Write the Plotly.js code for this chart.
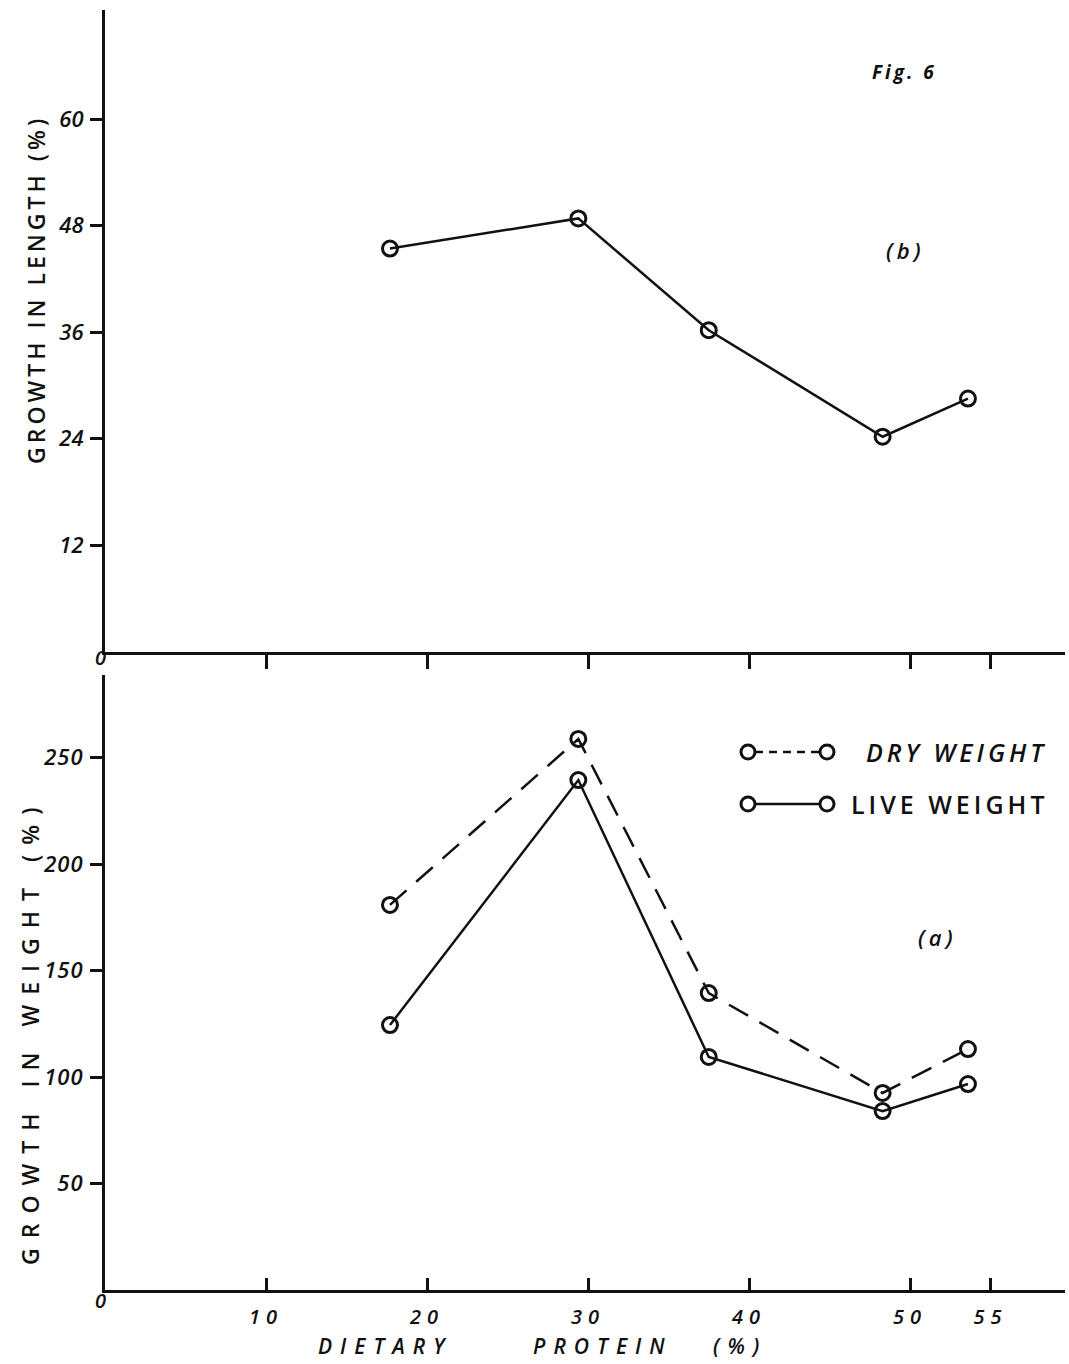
<!DOCTYPE html>
<html>
<head>
<meta charset="utf-8">
<script src="https://cdn.plot.ly/plotly-3.0.1.min.js"></script>
<style>
html,body{margin:0;padding:0;background:#fff;}
#chart{width:1069px;height:1364px;}
</style>
</head>
<body>
<div id="chart"></div>
<script>
// ---- data ----
const proteinLevels = [17.7, 29.4, 37.5, 48.3, 53.6];          // dietary protein (%)
const lengthGrowth  = [45.4, 48.8, 36.2, 24.2, 28.5];          // panel (b), growth in length (%)
const dryWeight     = [180.8, 258.7, 139.4, 92.5, 113.1];      // panel (a), dry weight growth (%)
const liveWeight    = [124.4, 239.4, 109.4, 84.0, 96.7];       // panel (a), live weight growth (%)
const xTicks        = [10, 20, 30, 40, 50, 55];
const xTickText     = ['10', '20', '30', '40', '50', '55'];
const lenTicks      = [12, 24, 36, 48, 60];
const lenTickText   = ['12', '24', '36', '48', '60'];
const wtTicks       = [50, 100, 150, 200, 250];
const wtTickText    = ['50', '100', '150', '200', '250'];

// ---- pixel helpers for paper placement ----
const L = 105, R = 1065, T = 10, B = 1290;
const px = x => (x - L) / (R - L);
const py = y => (B - y) / (B - T);

const FONT = 'Open Sans, Liberation Sans, sans-serif';
const ink = '#111';

const markerStyle = {symbol: 'circle-open', size: 15, color: ink, line: {width: 3, color: ink}};

const traces = [
  {x: proteinLevels, y: lengthGrowth, xaxis: 'x', yaxis: 'y', mode: 'lines+markers',
   line: {color: ink, width: 2.5}, marker: markerStyle, name: 'LENGTH'},
  {x: proteinLevels, y: dryWeight, xaxis: 'x2', yaxis: 'y2', mode: 'lines+markers',
   line: {color: ink, width: 2.5, dash: '22px,13px'}, marker: markerStyle, name: 'DRY WEIGHT'},
  {x: proteinLevels, y: liveWeight, xaxis: 'x2', yaxis: 'y2', mode: 'lines+markers',
   line: {color: ink, width: 2.5}, marker: markerStyle, name: 'LIVE WEIGHT'}
];

const tickFont = {family: FONT, size: 22, color: ink, style: 'italic', weight: 600};
const xTickFont = {family: FONT, size: 20, color: ink, style: 'italic', weight: 600};
const xRange = [0, (R - L) / 16.1];

const layout = {
  width: 1069, height: 1364,
  margin: {l: L, r: 1069 - R, t: T, b: 1364 - B},
  paper_bgcolor: '#fff', plot_bgcolor: '#fff',
  showlegend: false,
  xaxis: {domain: [0, 1], range: xRange, anchor: 'y', showgrid: false, zeroline: false,
    showline: true, linecolor: ink, linewidth: 3, ticks: 'outside', ticklen: 14, tickwidth: 3,
    tickcolor: ink, tickvals: xTicks, showticklabels: false},
  yaxis: {domain: [py(651.5), 1], range: [0, (651.5 - T) / 8.875], anchor: 'x', showgrid: false,
    zeroline: false, showline: true, linecolor: ink, linewidth: 3, ticks: 'outside', ticklen: 12,
    tickwidth: 3, tickcolor: ink, tickvals: lenTicks, ticktext: lenTickText, tickfont: tickFont,
    ticklabelstandoff: 2},
  xaxis2: {domain: [0, 1], range: xRange, anchor: 'y2', showgrid: false, zeroline: false,
    showline: true, linecolor: ink, linewidth: 3, ticks: 'inside', ticklen: 12, tickwidth: 3,
    tickcolor: ink, tickvals: xTicks, ticktext: xTickText, tickfont: xTickFont,
    ticklabelstandoff: 7},
  yaxis2: {domain: [0, py(675)], range: [0, (B - 675) / 2.13], anchor: 'x2', showgrid: false,
    zeroline: false, showline: true, linecolor: ink, linewidth: 3, ticks: 'outside', ticklen: 12,
    tickwidth: 3, tickcolor: ink, tickvals: wtTicks, ticktext: wtTickText, tickfont: tickFont,
    ticklabelstandoff: 2},
  annotations: [
    {xref: 'paper', yref: 'paper', x: px(36), y: py(290), text: 'GROWTH IN LENGTH (%)',
     textangle: -90, showarrow: false, font: {family: FONT, size: 23, color: ink, weight: 600},
     xanchor: 'center', yanchor: 'middle'},
    {xref: 'paper', yref: 'paper', x: px(30), y: py(1032), text: 'GROWTH IN WEIGHT (%)',
     textangle: -90, showarrow: false, font: {family: FONT, size: 23, color: ink, weight: 600},
     xanchor: 'center', yanchor: 'middle'},
    {xref: 'paper', yref: 'paper', x: px(542), y: py(1346),
     text: 'DIETARY&nbsp;&nbsp;&nbsp;&nbsp;&nbsp;&nbsp;PROTEIN&nbsp;&nbsp;&nbsp;(%)',
     showarrow: false, font: {family: FONT, size: 21, color: ink, style: 'italic', weight: 600},
     xanchor: 'center', yanchor: 'middle'},
    {xref: 'paper', yref: 'paper', x: px(904), y: py(72), text: 'Fig. 6', showarrow: false,
     font: {family: FONT, size: 19, color: ink, style: 'italic', weight: 700},
     xanchor: 'center', yanchor: 'middle'},
    {xref: 'paper', yref: 'paper', x: px(905), y: py(250), text: '(b)', showarrow: false,
     font: {family: FONT, size: 22, color: ink, style: 'italic', weight: 600},
     xanchor: 'center', yanchor: 'middle'},
    {xref: 'paper', yref: 'paper', x: px(937), y: py(937), text: '(a)', showarrow: false,
     font: {family: FONT, size: 22, color: ink, style: 'italic', weight: 600},
     xanchor: 'center', yanchor: 'middle'},
    {xref: 'paper', yref: 'paper', x: px(100), y: py(657), text: '0', showarrow: false,
     font: {family: FONT, size: 20, color: ink, style: 'italic', weight: 600},
     xanchor: 'center', yanchor: 'middle'},
    {xref: 'paper', yref: 'paper', x: px(100), y: py(1300), text: '0', showarrow: false,
     font: {family: FONT, size: 20, color: ink, style: 'italic', weight: 600},
     xanchor: 'center', yanchor: 'middle'},
    {xref: 'paper', yref: 'paper', x: px(957), y: py(752), text: 'DRY WEIGHT', showarrow: false,
     font: {family: FONT, size: 25, color: ink, style: 'italic', weight: 600},
     xanchor: 'center', yanchor: 'middle'},
    {xref: 'paper', yref: 'paper', x: px(950), y: py(804), text: 'LIVE WEIGHT', showarrow: false,
     font: {family: FONT, size: 25, color: ink, weight: 600},
     xanchor: 'center', yanchor: 'middle'}
  ],
  shapes: [
    // legend samples
    {type: 'line', xref: 'paper', yref: 'paper', x0: px(755), x1: px(820), y0: py(752), y1: py(752),
     line: {color: ink, width: 2.5, dash: '8px,6px'}},
    {type: 'line', xref: 'paper', yref: 'paper', x0: px(755), x1: px(820), y0: py(804), y1: py(804),
     line: {color: ink, width: 2.5}},
    {type: 'circle', xref: 'paper', yref: 'paper', x0: px(741), x1: px(755), y0: py(745), y1: py(759),
     line: {color: ink, width: 3}, fillcolor: '#fff'},
    {type: 'circle', xref: 'paper', yref: 'paper', x0: px(820), x1: px(834), y0: py(745), y1: py(759),
     line: {color: ink, width: 3}, fillcolor: '#fff'},
    {type: 'circle', xref: 'paper', yref: 'paper', x0: px(741), x1: px(755), y0: py(797), y1: py(811),
     line: {color: ink, width: 3}, fillcolor: '#fff'},
    {type: 'circle', xref: 'paper', yref: 'paper', x0: px(820), x1: px(834), y0: py(797), y1: py(811),
     line: {color: ink, width: 3}, fillcolor: '#fff'}
  ]
};

Plotly.newPlot('chart', traces, layout, {staticPlot: true}).then(() => {
  document.querySelectorAll('#chart .annotation-text').forEach(t => {
    const s = t.textContent;
    if (s.startsWith('GROWTH')) t.style.letterSpacing = s.includes('WEIGHT') ? '10px' : '4px';
    else if (s.includes('WEIGHT')) t.style.letterSpacing = '4px';
    else if (s.startsWith('DIETARY')) t.style.letterSpacing = '8px';
    else if (s.startsWith('Fig')) t.style.letterSpacing = '3px';
    else if (s.startsWith('(')) t.style.letterSpacing = '4px';
  });
  document.querySelectorAll('#chart .x2tick text').forEach(t => {
    t.style.letterSpacing = '6px';
  });
  document.querySelectorAll('#chart .y2tick text').forEach(t => {
    t.style.letterSpacing = '1px';
  });
});
</script>
</body>
</html>
